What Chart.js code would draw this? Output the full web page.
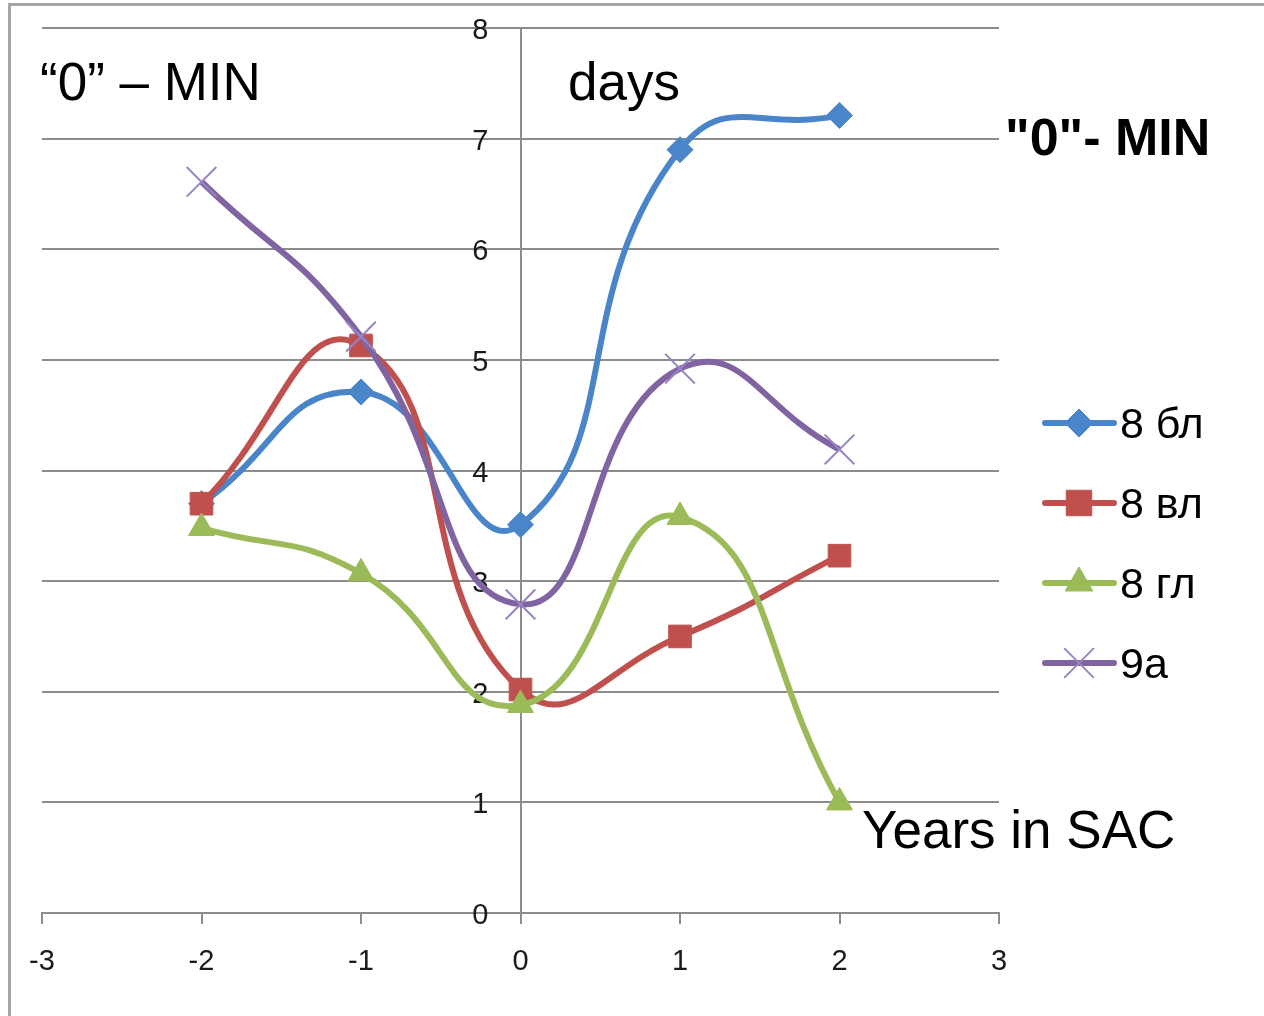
<!DOCTYPE html>
<html>
<head>
<meta charset="utf-8">
<script src="https://cdn.jsdelivr.net/npm/chart.js@4/dist/chart.umd.min.js"></script>
<style>
  html, body { margin: 0; padding: 0; background: #fff; }
  #wrap { position: relative; width: 1264px; height: 1016px; }
  canvas { display: block; }
</style>
</head>
<body>
<div id="wrap"><canvas id="c" width="1264" height="1016"></canvas></div>
<script>
// ---- data ----
const xValues = [-2, -1, 0, 1, 2];
const seriesNames = ['8 бл', '8 вл', '8 гл', '9а'];
const s8bl = [3.7, 4.71, 3.51, 6.9, 7.21];
const s8vl = [3.7, 5.13, 2.02, 2.5, 3.23];
const s8gl = [3.48, 3.07, 1.88, 3.58, 1.0];
const s9a  = [6.61, 5.21, 2.79, 4.92, 4.19];
const xTicks = [-3, -2, -1, 0, 1, 2, 3];
const yTicks = [0, 1, 2, 3, 4, 5, 6, 7, 8];
const annotations = [
  { text: '\u201C0\u201D \u2013 MIN', x: 40, y: 100, font: '53px "Liberation Sans", Arial, sans-serif' },
  { text: 'days', x: 568, y: 100, font: '53px "Liberation Sans", Arial, sans-serif' },
  { text: '"0"- MIN', x: 1005, y: 155, font: 'bold 52px "Liberation Sans", Arial, sans-serif' },
  { text: 'Years in SAC', x: 862, y: 848, font: '53px "Liberation Sans", Arial, sans-serif' }
];

const styles = [
  { color: '#4a85c9', style: 'rectRot', radius: 13, legendRadius: 14, bw: 1 },
  { color: '#c0504d', style: 'rect', radius: 16, legendRadius: 18, bw: 1 },
  { color: '#9bbb59', style: 'triangle', radius: 15, legendRadius: 16, bw: 1 },
  { color: '#8064a2', style: 'crossRot', radius: 21, legendRadius: 21, bw: 2, markerColor: '#9a84c2' }
];
const allSeries = [s8bl, s8vl, s8gl, s9a];

const datasets = allSeries.map((vals, i) => ({
  label: seriesNames[i],
  data: xValues.map((x, j) => ({ x: x, y: vals[j] })),
  borderColor: styles[i].color,
  backgroundColor: styles[i].color,
  pointBackgroundColor: styles[i].color,
  pointBorderColor: styles[i].markerColor || styles[i].color,
  pointBorderWidth: styles[i].bw,
  pointStyle: styles[i].style,
  pointRadius: styles[i].radius,
  pointHoverRadius: styles[i].radius,
  borderWidth: 6,
  tension: 0.5,
  fill: false,
  order: 3 - i
}));

function drawMarker(ctx, style, x, y, r, color, bcolor, bw) {
  ctx.save();
  ctx.fillStyle = color;
  ctx.strokeStyle = bcolor;
  ctx.lineWidth = bw;
  ctx.beginPath();
  if (style === 'rectRot') {
    ctx.moveTo(x, y - r); ctx.lineTo(x + r, y); ctx.lineTo(x, y + r); ctx.lineTo(x - r, y); ctx.closePath();
    ctx.fill(); ctx.stroke();
  } else if (style === 'rect') {
    const s = r * Math.SQRT1_2;
    ctx.rect(x - s, y - s, 2 * s, 2 * s); ctx.fill(); ctx.stroke();
  } else if (style === 'triangle') {
    ctx.moveTo(x, y - r);
    ctx.lineTo(x + r * Math.sin(Math.PI * 2 / 3), y - r * Math.cos(Math.PI * 2 / 3));
    ctx.lineTo(x - r * Math.sin(Math.PI * 2 / 3), y - r * Math.cos(Math.PI * 2 / 3));
    ctx.closePath(); ctx.fill(); ctx.stroke();
  } else if (style === 'crossRot') {
    const o = r * Math.SQRT1_2;
    ctx.moveTo(x - o, y - o); ctx.lineTo(x + o, y + o);
    ctx.moveTo(x - o, y + o); ctx.lineTo(x + o, y - o);
    ctx.stroke();
  }
  ctx.restore();
}

const decorPlugin = {
  id: 'decor',
  beforeDraw(chart) {
    const ctx = chart.ctx;
    ctx.save();
    ctx.fillStyle = '#ffffff';
    ctx.fillRect(0, 0, chart.width, chart.height);
    ctx.strokeStyle = '#a6a6a6';
    ctx.lineWidth = 3;
    ctx.beginPath();
    ctx.moveTo(9.5, chart.height + 5);
    ctx.lineTo(9.5, 4.5);
    ctx.lineTo(chart.width + 5, 4.5);
    ctx.stroke();
    ctx.restore();
  },
  afterDraw(chart) {
    const ctx = chart.ctx;
    ctx.save();
    ctx.fillStyle = '#000';
    ctx.textBaseline = 'alphabetic';
    ctx.textAlign = 'left';
    annotations.forEach(a => { ctx.font = a.font; ctx.fillText(a.text, a.x, a.y); });
    const ly0 = 423, lstep = 80;
    chart.data.datasets.forEach((ds, i) => {
      const y = ly0 + i * lstep;
      const st = styles[i];
      ctx.save();
      ctx.strokeStyle = st.color;
      ctx.lineWidth = 6;
      ctx.lineCap = 'round';
      ctx.beginPath(); ctx.moveTo(1045, y); ctx.lineTo(1114, y); ctx.stroke();
      ctx.restore();
      drawMarker(ctx, st.style, 1079, y, st.legendRadius, st.color, st.markerColor || st.color, st.bw);
      ctx.fillStyle = '#000';
      ctx.font = '43px "Liberation Sans", Arial, sans-serif';
      ctx.fillText(ds.label, 1120, y + 15);
    });
    ctx.restore();
  }
};

new Chart(document.getElementById('c'), {
  type: 'line',
  data: { datasets: datasets },
  options: {
    responsive: false,
    animation: false,
    events: [],
    layout: { padding: { left: 42, right: 265, top: 28, bottom: 103 } },
    plugins: { legend: { display: false }, tooltip: { enabled: false } },
    scales: {
      x: {
        type: 'linear',
        position: { y: 0 },
        min: -3, max: 3,
        afterFit: (s) => { s.height = 0; },
        afterBuildTicks: (s) => { s.ticks = xTicks.map(v => ({ value: v })); },
        grid: { display: true, drawOnChartArea: false, drawTicks: true, tickLength: 10, color: '#8c8c8c', lineWidth: 2 },
        border: { display: true, color: '#8c8c8c', width: 2 },
        ticks: { color: '#1a1a1a', padding: 22, maxRotation: 0, autoSkip: false,
                 font: { family: '"Liberation Sans", Arial, sans-serif', size: 29 } }
      },
      y: {
        type: 'linear',
        position: { x: 0 },
        min: 0, max: 8,
        afterFit: (s) => { s.width = 0; },
        afterBuildTicks: (s) => { s.ticks = yTicks.map(v => ({ value: v })); },
        grid: { display: true, drawOnChartArea: true, drawTicks: false, color: '#8c8c8c', lineWidth: 2 },
        border: { display: true, color: '#8c8c8c', width: 2 },
        ticks: { color: '#1a1a1a', padding: 0, autoSkip: false, labelOffset: 3,
                 callback: (v) => String(v) + '    ',
                 font: { family: '"Liberation Sans", Arial, sans-serif', size: 29 } }
      }
    }
  },
  plugins: [decorPlugin]
});
</script>
</body>
</html>
